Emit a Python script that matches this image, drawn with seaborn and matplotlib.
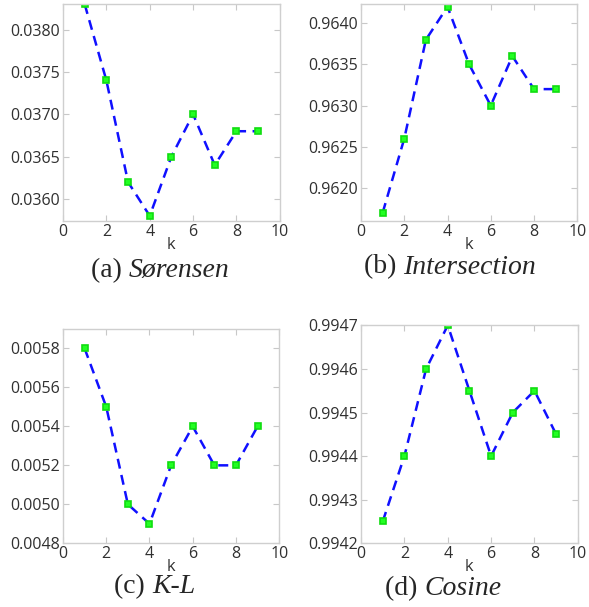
import numpy as np
import matplotlib
matplotlib.use("Agg")
import matplotlib.pyplot as plt
import seaborn as sns
from matplotlib.offsetbox import TextArea, HPacker, AnnotationBbox

# data
k = [1, 2, 3, 4, 5, 6, 7, 8, 9]
sorensen = [0.0383, 0.0374, 0.0362, 0.0358, 0.0365, 0.0370, 0.0364, 0.0368, 0.0368]
intersection = [0.9617, 0.9626, 0.9638, 0.9642, 0.9635, 0.9630, 0.9636, 0.9632, 0.9632]
kl = [0.0058, 0.0055, 0.0050, 0.0049, 0.0052, 0.0054, 0.0052, 0.0052, 0.0054]
cosine = [0.99425, 0.9944, 0.9946, 0.9947, 0.99455, 0.9944, 0.9945, 0.99455, 0.99445]

sns.set_style("white")
plt.rcParams["font.family"] = ["Open Sans", "DejaVu Sans"]

fig = plt.figure(figsize=(5.89, 6.07), dpi=100)

panels = [
    # values, axes rect, ylim, yticks, label, name, caption pos
    (sorensen, [0.107, 0.636, 0.368, 0.357], (0.03574, 0.0383),
     np.arange(0.0360, 0.03801, 0.0005), "(a) ", "Sørensen", (0.272, 0.555)),
    (intersection, [0.613, 0.636, 0.367, 0.357], (0.96160, 0.96423),
     np.arange(0.9620, 0.96401, 0.0005), "(b) ", "Intersection", (0.764, 0.560)),
    (kl, [0.107, 0.105, 0.367, 0.353], (0.0048, 0.0059),
     np.arange(0.0048, 0.00581, 0.0002), "(c) ", "K-L", (0.263, 0.033)),
    (cosine, [0.613, 0.105, 0.368, 0.359], (0.9942, 0.9947),
     np.arange(0.9942, 0.99471, 0.0001), "(d) ", "Cosine", (0.752, 0.031)),
]

for vals, rect, ylim, yticks, lab, name, cpos in panels:
    ax = fig.add_axes(rect)
    sns.lineplot(x=k, y=vals, ax=ax, color="#1010ff", linestyle="--",
                 linewidth=1.8, marker="s", markersize=5,
                 markerfacecolor="#22ff22", markeredgecolor="#10dd10",
                 markeredgewidth=1.2, dashes=False)
    ax.lines[0].set_linestyle((0, (4, 2.6)))
    ax.set_xlim(0, 10)
    ax.set_ylim(*ylim)
    ax.set_xticks([0, 2, 4, 6, 8, 10])
    ax.set_yticks(yticks)
    ax.yaxis.set_major_formatter(matplotlib.ticker.FormatStrFormatter("%.4f"))
    ax.tick_params(direction="in", length=4, width=0.8, color="#c8c8c8",
                   labelsize=11.5, labelcolor="#303030", top=True, right=True,
                   bottom=True, left=True, pad=2)
    for s in ax.spines.values():
        s.set_color("#cfcfcf")
        s.set_linewidth(1.0)
    ax.set_xlabel("k", fontsize=12, color="#303030", labelpad=-2)

    t1 = TextArea(lab, textprops=dict(family="Liberation Serif", fontsize=20))
    t2 = TextArea(name, textprops=dict(family="Liberation Serif", style="italic", fontsize=20))
    box = HPacker(children=[t1, t2], align="baseline", pad=0, sep=0)
    ab = AnnotationBbox(box, cpos, xycoords="figure fraction", frameon=False,
                        box_alignment=(0.5, 0.5))
    fig.add_artist(ab)

fig.savefig("out.png", dpi=100)
